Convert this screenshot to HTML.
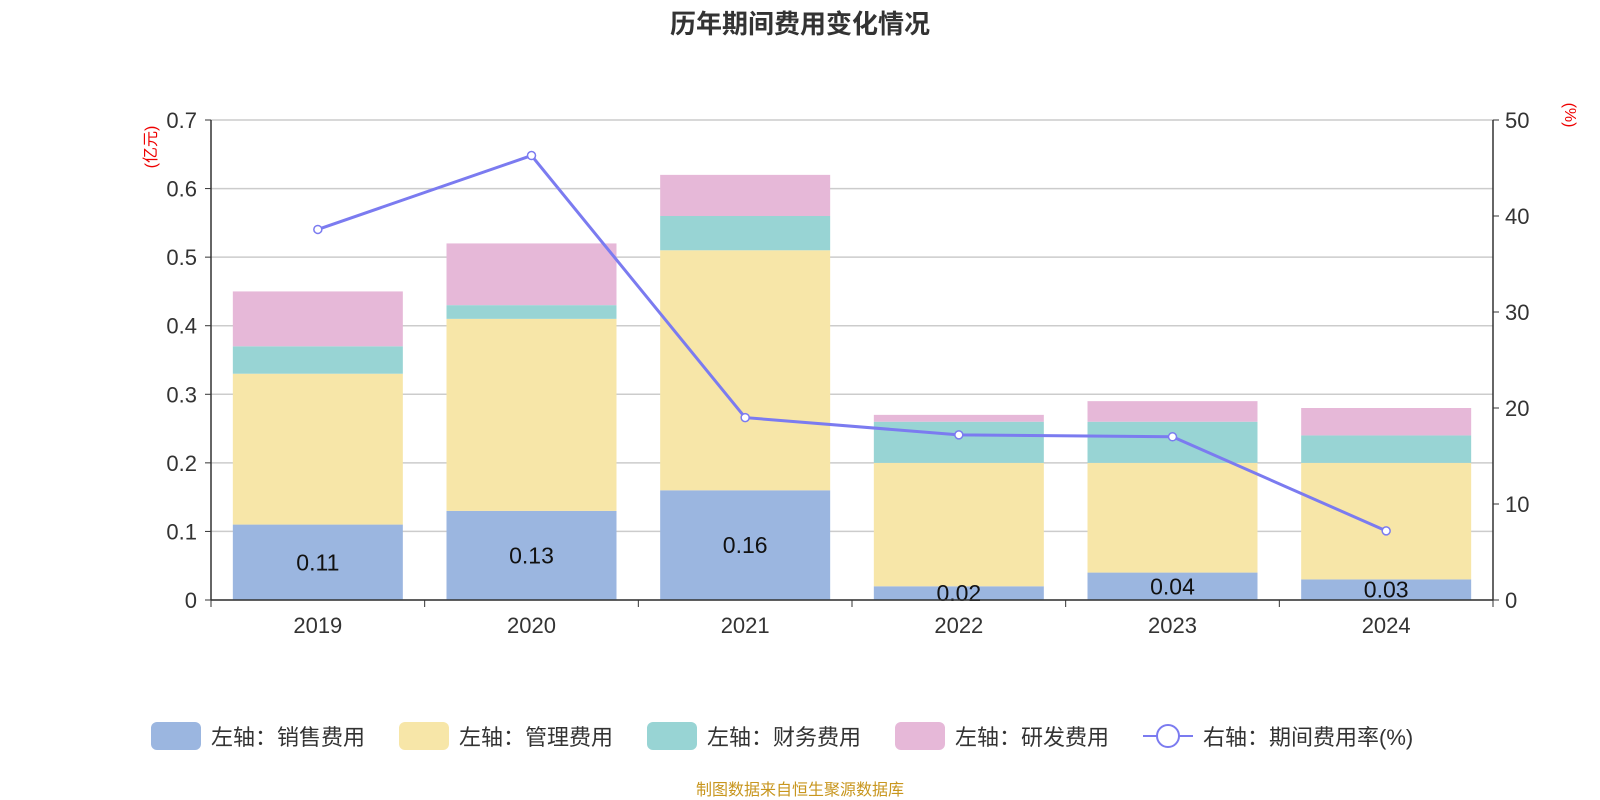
<!DOCTYPE html>
<html><head><meta charset="utf-8"><style>
body{margin:0;background:#fff;}
svg{display:block;font-family:"Liberation Sans","Noto Sans CJK SC",sans-serif;}
</style></head><body>
<svg id="c" width="1600" height="800">
<text x="800" y="33" text-anchor="middle" font-size="26" font-weight="bold" fill="#333">历年期间费用变化情况</text>
<g id="grid"></g><g id="bars"></g><g id="line"></g><g id="axes"></g>
<text transform="translate(156,147) rotate(-90)" text-anchor="middle" font-size="16" fill="#e00">(亿元)</text>
<text transform="translate(1565,115) rotate(90)" text-anchor="middle" font-size="16" fill="#e00">(%)</text>
<g id="legend"></g>
<text x="800" y="795" text-anchor="middle" font-size="16" fill="#c8961e">制图数据来自恒生聚源数据库</text>
</svg>
<script>
const years=["2019","2020","2021","2022","2023","2024"];
const sales=[0.11,0.13,0.16,0.02,0.04,0.03];
const mgmt=[0.22,0.28,0.35,0.18,0.16,0.17];
const fin=[0.04,0.02,0.05,0.06,0.06,0.04];
const rd=[0.08,0.09,0.06,0.01,0.03,0.04];
const rate=[38.6,46.3,19.0,17.2,17.0,7.2];
const leftTicks=[0,0.1,0.2,0.3,0.4,0.5,0.6,0.7];
const rightTicks=[0,10,20,30,40,50];
const NS="http://www.w3.org/2000/svg";
const X0=211,X1=1493,Y0=600,Y1=120;
const band=(X1-X0)/years.length, bw=170;
const yL=v=>Y0-(v/0.7)*(Y0-Y1);
const yR=v=>Y0-(v/50)*(Y0-Y1);
const xc=i=>X0+band*(i+0.5);
function mk(t,a,p){const e=document.createElementNS(NS,t);for(const k in a)e.setAttribute(k,a[k]);p.appendChild(e);return e;}
const grid=document.getElementById('grid'),axes=document.getElementById('axes');
leftTicks.forEach(v=>{
 const g=mk('line',{x1:X0,x2:X1,y1:yL(v),y2:yL(v),stroke:'#ccc','stroke-width':1.5},grid);
 
 
 mk('line',{x1:X0-6,x2:X0,y1:yL(v),y2:yL(v),stroke:'#333'},axes);
 const t=mk('text',{x:X0-14,y:yL(v)+8,'text-anchor':'end','font-size':22,fill:'#333'},axes);t.textContent=v;
 
 
});
rightTicks.forEach(v=>{
 mk('line',{x1:X1,x2:X1+6,y1:yR(v),y2:yR(v),stroke:'#333'},axes);
 const t=mk('text',{x:X1+12,y:yR(v)+8,'font-size':22,fill:'#333'},axes);t.textContent=v;
 
 
});
mk('line',{x1:X0,x2:X0,y1:Y1,y2:Y0,stroke:'#333','stroke-width':1.5},axes);
mk('line',{x1:X1,x2:X1,y1:Y1,y2:Y0,stroke:'#333','stroke-width':1.5},axes);
mk('line',{x1:X0,x2:X1,y1:Y0,y2:Y0,stroke:'#333','stroke-width':1.5},axes);
for(let i=0;i<=years.length;i++)mk('line',{x1:X0+band*i,x2:X0+band*i,y1:Y0,y2:Y0+7,stroke:'#333'},axes);
years.forEach((y,i)=>{const t=mk('text',{x:xc(i),y:Y0+33,'text-anchor':'middle','font-size':22,fill:'#333'},axes);t.textContent=y;
 
 });
const bars=document.getElementById('bars');
const series=[[sales,'#9bb6e0','sales'],[mgmt,'#f7e6a8','mgmt'],[fin,'#98d4d4','fin'],[rd,'#e6b8d8','rd']];
years.forEach((yr,i)=>{let acc=0;series.forEach(([arr,col,nm])=>{
 const r=mk('rect',{x:xc(i)-bw/2,y:yL(acc+arr[i]),width:bw,height:yL(acc)-yL(acc+arr[i]),fill:col},bars);
 
 
 acc+=arr[i];});
 const t=mk('text',{x:xc(i),y:(yL(0)+yL(sales[i]))/2+8,'text-anchor':'middle','font-size':23,fill:'#111'},bars);t.textContent=sales[i];
 
 
});
const line=document.getElementById('line');
const pl=mk('polyline',{points:rate.map((v,i)=>xc(i)+','+yR(v)).join(' '),fill:'none',stroke:'#7b7bf0','stroke-width':3},line);


rate.forEach((v,i)=>{const c=mk('circle',{cx:xc(i),cy:yR(v),r:4,fill:'#fff',stroke:'#7b7bf0','stroke-width':1.5},line);
 
 });
const lg=document.getElementById('legend');
const items=[['#9bb6e0','左轴：销售费用',151],['#f7e6a8','左轴：管理费用',399],['#98d4d4','左轴：财务费用',647],['#e6b8d8','左轴：研发费用',895]];
items.forEach(([c,l,x])=>{const r=mk('rect',{x:x,y:722,width:50,height:28,rx:6,fill:c},lg);
 
 
 const t=mk('text',{x:x+60,y:745,'font-size':22,fill:'#333'},lg);t.textContent=l;
 
 });
mk('line',{x1:1143,x2:1193,y1:736,y2:736,stroke:'#7b7bf0','stroke-width':2},lg);
mk('circle',{cx:1168,cy:736,r:11,fill:'#fff',stroke:'#7b7bf0','stroke-width':2},lg);
const lt=mk('text',{x:1203,y:745,'font-size':22,fill:'#333'},lg);lt.textContent='右轴：期间费用率(%)';


</script>
</body></html>
